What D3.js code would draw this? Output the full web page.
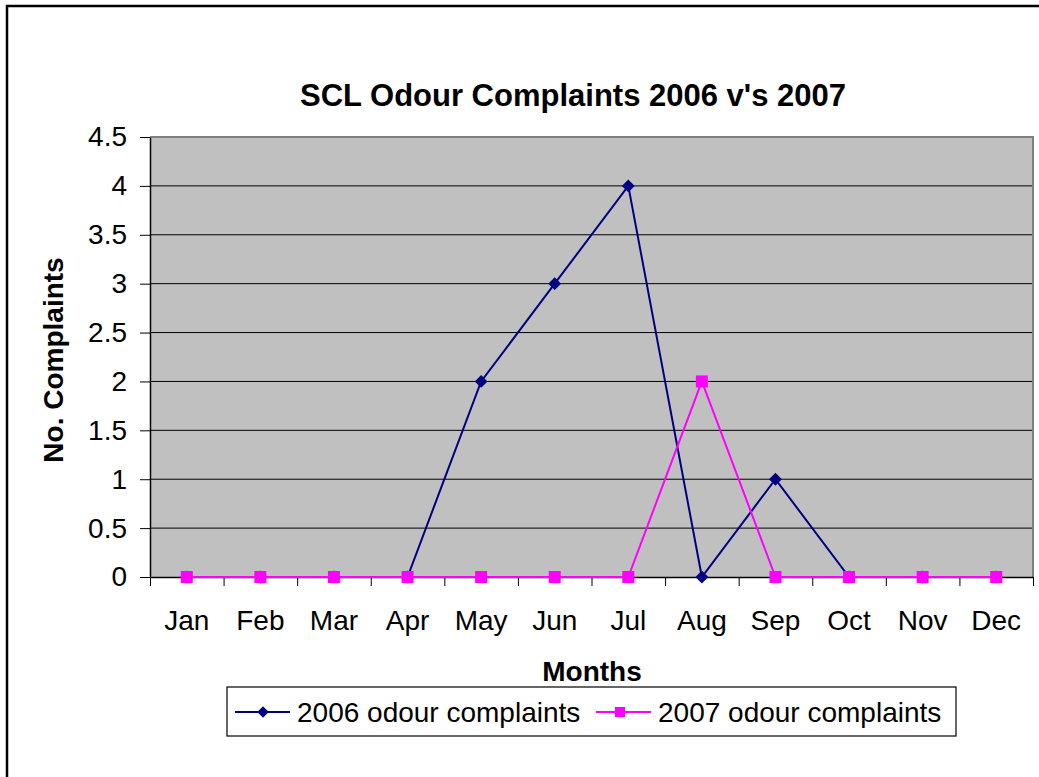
<!DOCTYPE html>
<html>
<head>
<meta charset="utf-8">
<script src="https://cdn.jsdelivr.net/npm/d3@7"></script>
<style>
  body { margin: 0; background: #fff; }
  svg { display: block; font-family: "Liberation Sans", Arial, sans-serif; }
</style>
</head>
<body>
<svg width="1039" height="777"></svg>
<script>
// data
const months = ["Jan","Feb","Mar","Apr","May","Jun","Jul","Aug","Sep","Oct","Nov","Dec"];
const complaints2006 = [0,0,0,0,2,3,4,0,1,0,0,0];
const complaints2007 = [0,0,0,0,0,0,0,2,0,0,0,0];
const yTicks = [0,0.5,1,1.5,2,2.5,3,3.5,4,4.5];
const seriesNames = ["2006 odour complaints","2007 odour complaints"];

let svg = d3.select("svg");

// outer frame (runs past right/bottom edge)
svg.append("rect")
  .attr("x", 7).attr("y", 6)
  .attr("width", 1060).attr("height", 800)
  .attr("fill", "#fff").attr("stroke", "#000").attr("stroke-width", 2.5);

const plotLeft = 150, plotRight = 1033, plotTop = 137, plotBottom = 577;

let x = d3.scaleBand().domain(months).range([plotLeft, plotRight]);
let xEdge = d3.scaleLinear().domain([0, 12]).range([plotLeft, plotRight]);
let y = d3.scaleLinear().domain([0, 4.5]).range([plotBottom, plotTop]);

// plot background
svg.append("rect")
  .attr("x", plotLeft).attr("y", plotTop)
  .attr("width", plotRight - plotLeft).attr("height", plotBottom - plotTop)
  .attr("fill", "#c0c0c0");

// gridlines
svg.append("g").selectAll("line").data(yTicks.filter(d => d > 0)).enter()
  .append("line")
    .attr("x1", plotLeft).attr("x2", plotRight)
    .attr("y1", d => y(d)).attr("y2", d => y(d))
    .attr("stroke", "#000").attr("stroke-width", 1);

// gray top/right border
svg.append("path")
  .attr("d", `M${plotLeft},${plotTop}H${plotRight}V${plotBottom}`)
  .attr("fill", "none").attr("stroke", "#808080").attr("stroke-width", 2);

// y axis
const yAxis = svg.append("g")
  .attr("transform", `translate(${plotLeft},0)`)
  .call(d3.axisLeft(y).tickValues(yTicks).tickFormat(d => d).tickSizeInner(10).tickSizeOuter(0).tickPadding(13));
yAxis.selectAll("text").attr("font-size", 28).attr("font-family", "Liberation Sans, Arial, sans-serif").attr("fill", "#000");
yAxis.selectAll("line").attr("stroke", "#000");
yAxis.select(".domain").attr("stroke", "#000").attr("stroke-width", 1.5);

// x axis: boundary ticks
const xTickAxis = svg.append("g")
  .attr("transform", `translate(0,${plotBottom})`)
  .call(d3.axisBottom(xEdge).ticks(12).tickFormat("").tickSizeInner(9).tickSizeOuter(0));
xTickAxis.selectAll("line").attr("stroke", "#000");
xTickAxis.select(".domain").attr("stroke", "#000").attr("stroke-width", 1.5);

// x axis labels
const xLabels = svg.append("g")
  .attr("transform", `translate(0,${plotBottom})`)
  .call(d3.axisBottom(x).tickSize(0).tickPadding(33));
xLabels.select(".domain").remove();
xLabels.selectAll("text").attr("font-size", 28).attr("font-family", "Liberation Sans, Arial, sans-serif").attr("fill", "#000");

// lines
const line = d3.line().x((d, i) => x(months[i]) + x.bandwidth() / 2).y(d => y(d));

svg.append("path").datum(complaints2006)
  .attr("d", line).attr("fill", "none").attr("stroke", "#000080").attr("stroke-width", 2);
svg.append("g").selectAll("path").data(complaints2006).enter()
  .append("path")
    .attr("d", d3.symbol().type(d3.symbolDiamond2).size(105))
    .attr("transform", (d, i) => `translate(${x(months[i]) + x.bandwidth() / 2},${y(d)})`)
    .attr("fill", "#000080");

svg.append("path").datum(complaints2007)
  .attr("d", line).attr("fill", "none").attr("stroke", "#ff00ff").attr("stroke-width", 2);
svg.append("g").selectAll("rect").data(complaints2007).enter()
  .append("rect")
    .attr("x", (d, i) => x(months[i]) + x.bandwidth() / 2 - 6)
    .attr("y", d => y(d) - 6)
    .attr("width", 12).attr("height", 12)
    .attr("fill", "#ff00ff");

// title
svg.append("text")
  .attr("x", 573).attr("y", 106)
  .attr("text-anchor", "middle")
  .attr("font-size", 31).attr("font-weight", "bold")
  .text("SCL Odour Complaints 2006 v's 2007");

// axis titles
svg.append("text")
  .attr("x", 592).attr("y", 681)
  .attr("text-anchor", "middle")
  .attr("font-size", 28).attr("font-weight", "bold")
  .text("Months");

svg.append("text")
  .attr("transform", "translate(63,360) rotate(-90)")
  .attr("text-anchor", "middle")
  .attr("font-size", 28).attr("font-weight", "bold")
  .text("No. Complaints");

// legend
const legend = svg.append("g");
legend.append("rect")
  .attr("x", 227).attr("y", 687)
  .attr("width", 729).attr("height", 49)
  .attr("fill", "#fff").attr("stroke", "#000").attr("stroke-width", 1.2);

const legendItems = [
  {name: seriesNames[0], color: "#000080", x0: 235, marker: "diamond"},
  {name: seriesNames[1], color: "#ff00ff", x0: 596, marker: "square"}
];
legendItems.forEach(item => {
  const ly = 712;
  legend.append("line")
    .attr("x1", item.x0).attr("x2", item.x0 + 55)
    .attr("y1", ly).attr("y2", ly)
    .attr("stroke", item.color).attr("stroke-width", 2);
  if (item.marker === "diamond") {
    legend.append("path")
      .attr("d", d3.symbol().type(d3.symbolDiamond2).size(85))
      .attr("transform", `translate(${item.x0 + 28},${ly})`)
      .attr("fill", item.color);
  } else {
    legend.append("rect")
      .attr("x", item.x0 + 24 - 5).attr("y", ly - 5)
      .attr("width", 10).attr("height", 10)
      .attr("fill", item.color);
  }
  legend.append("text")
    .attr("x", item.x0 + 62).attr("y", ly + 10)
    .attr("font-size", 28)
    .text(item.name);
});
</script>
</body>
</html>
